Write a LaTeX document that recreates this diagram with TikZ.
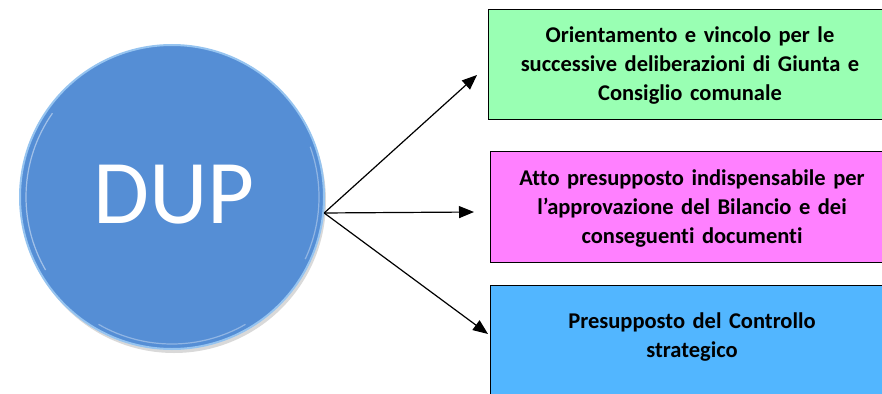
\documentclass[tikz,border=0pt]{standalone}
\usepackage{fontspec}
\setmainfont{Carlito}[Ligatures=NoCommon]
\usetikzlibrary{arrows.meta}
\definecolor{dupblue}{RGB}{85,142,213}
\definecolor{dupedge}{RGB}{150,196,240}
\definecolor{boxgreen}{RGB}{153,255,179}
\definecolor{boxpink}{RGB}{255,128,255}
\definecolor{boxblue}{RGB}{82,182,255}
\tikzset{
  infobox/.style={draw=black, line width=1pt, rectangle, anchor=north west,
    inner sep=0pt},
  infotext/.style={align=center, text width=390pt, inner sep=0pt,
    font=\bfseries\fontsize{22.5}{29}\selectfont},
  link/.style={-{Triangle[length=15pt,width=12pt]}, line width=1.2pt, black},
}
\begin{document}
\begin{tikzpicture}[x=1pt,y=-1pt]
\useasboundingbox (0,0) rectangle (882,393);
% shadow
\fill[black!15] (174,201) circle (152);
% DUP circle
\node[circle, fill=dupblue, minimum size=304pt, inner sep=0pt,
      draw=dupedge, line width=2pt] (dup) at (172,197) {};
\draw[white, opacity=0.45, line width=1.2pt] (172,197) ++(150:146) arc (150:215:146);
\draw[white, opacity=0.35, line width=1.2pt] (172,197) ++(-20:147) arc (-20:25:147);
\draw[white, opacity=0.35, line width=1.2pt] (172,197) ++(60:147) arc (60:120:147);
\node[text=white, font=\fontsize{91}{91}\selectfont] (duptxt) at (174,195) {DUP};
% boxes
\node[infobox, fill=boxgreen, minimum width=404pt, minimum height=110pt] (b1) at (488,9) {};
\node[infobox, fill=boxpink, minimum width=402pt, minimum height=111pt] (b2) at (490,151) {};
\node[infobox, fill=boxblue, minimum width=402pt, minimum height=140pt] (b3) at (490,285) {};
\node[infotext] (t1) at (690,66) {Orientamento e vincolo per le\\successive deliberazioni di Giunta e\\Consiglio comunale};
\node[infotext] (t2) at (692,209) {Atto presupposto indispensabile per\\l’approvazione del Bilancio e dei\\conseguenti documenti};
\node[infotext] (t3) at (692,337) {Presupposto del Controllo\\strategico};
% arrows
\coordinate (hub) at (dup.-6);
\coordinate (e1) at (477,75);
\coordinate (e2) at (474,212);
\coordinate (e3) at (488,334);
\draw[link] (hub) -- (e1);
\draw[link] (hub) -- (e2);
\draw[link] (hub) -- (e3);
\end{tikzpicture}
\end{document}
